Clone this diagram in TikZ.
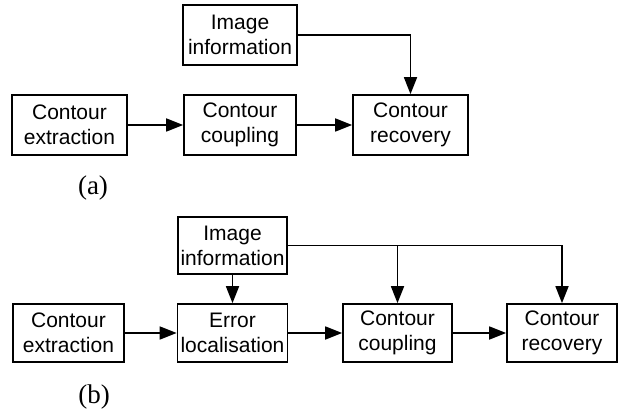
\documentclass[tikz,border=0pt]{standalone}
\usepackage{fontspec}
\setmainfont{Liberation Sans}
\newfontfamily\labelfont{Liberation Serif}
\usetikzlibrary{arrows.meta}
\tikzset{
  block/.style = {
    draw,
    line width=1.7pt,
    inner sep=0pt,
    align=center,
    font={\fontsize{21}{25}\selectfont}
  },
  flow/.style = {
    line width=1.7pt,
    -{Triangle[length=17pt,width=13pt]}
  },
  caption label/.style = {
    font={\labelfont\fontsize{27}{30}\selectfont}
  },
}

\begin{document}
\begin{tikzpicture}[x=1pt,y=-1pt]
  \useasboundingbox (0,0) rectangle (623,411);

  % (a)
  \foreach \name/\xc/\yc/\bw/\bh/\lineone/\linetwo in {
    imgA/240/35/114/60/Image/information,
    extA/69.5/125/115/60/Contour/extraction,
    coupA/240/125/112/60/Contour/coupling,
    recA/410.5/125/115/60/Contour/recovery%
  } {
    \node[block, minimum width=\bw pt, minimum height=\bh pt] (\name) at (\xc,\yc) {\lineone\\\linetwo};
  }

  % (b)
  \foreach \name/\xc/\yc/\bw/\bh/\lineone/\linetwo in {
    imgB/232.5/245.5/109/57/Image/information,
    extB/68.5/333/111/58/Contour/extraction,
    errB/232.5/333/110/58/Error/localisation,
    coupB/397.5/333/109/58/Contour/coupling,
    recB/562/333/110/58/Contour/recovery%
  } {
    \node[block, minimum width=\bw pt, minimum height=\bh pt] (\name) at (\xc,\yc) {\lineone\\\linetwo};
  }

  \node[caption label] (capA) at (93,188) {(a)};
  \node[caption label] (capB) at (94,397) {(b)};

  \foreach \from/\to in {
    extA/coupA,
    coupA/recA,
    extB/errB,
    errB/coupB,
    coupB/recB,
    imgB/errB%
  } {
    \draw[flow] (\from) -- (\to);
  }

  \draw[flow] (imgA.east) -| (recA.north);
  \draw[flow] (imgB.east) -| (recB.north);
  \coordinate (tapB) at (imgB.east -| coupB.north);
  \draw[flow] (tapB) -- (coupB.north);

\end{tikzpicture}
\end{document}
